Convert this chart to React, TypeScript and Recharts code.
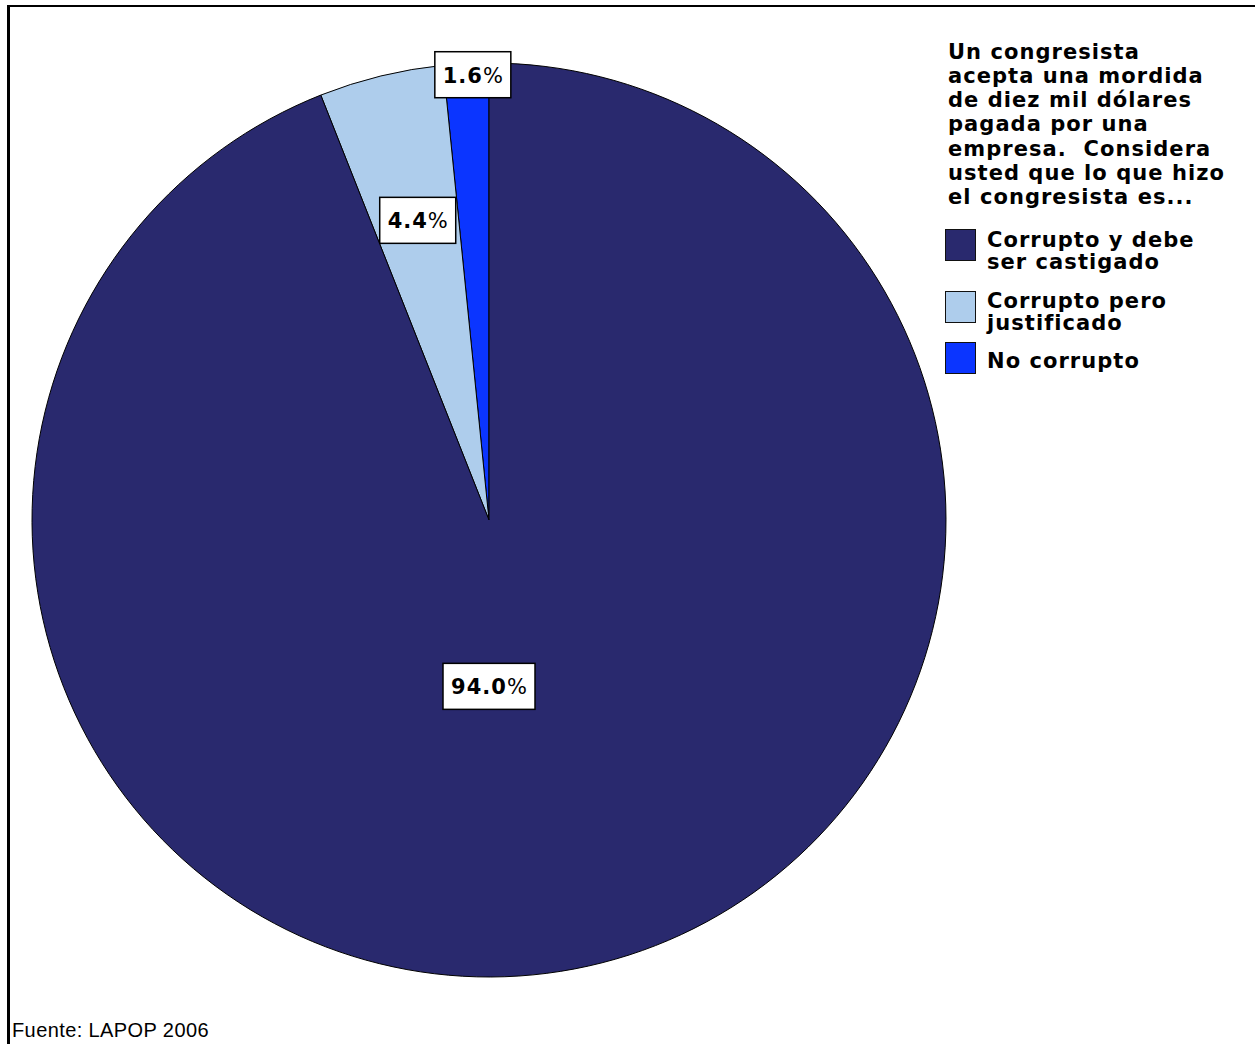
import { PieChart, Pie, Cell, Legend } from 'recharts';

// Data (order as drawn, counter-clockwise from 12 o'clock)
const categories = ['No corrupto', 'Corrupto pero justificado', 'Corrupto y debe ser castigado'];
const values = [1.6, 4.4, 94.0];
const sliceColors = ['#0B35FF', '#AECDEC', '#29296E'];

// Legend text (legend runs in the reverse order of the slices)
const legendTitle = [
    'Un congresista',
    'acepta una mordida',
    'de diez mil dólares',
    'pagada por una',
    'empresa.  Considera',
    'usted que lo que hizo',
    'el congresista es...',
];
const legendLines = [
    ['No corrupto'],
    ['Corrupto pero', 'justificado'],
    ['Corrupto y debe', 'ser castigado'],
];
const sourceNote = 'Fuente: LAPOP 2006';

// where each value box sits: share of the radius, and a nudge off the mid angle
const labelRadius = [0.975, 0.674, 0.364];
const labelAngleShift = [-0.8, -0.3, -10.8];

const data = categories.map((name, i) => ({ name, value: values[i] }));

const RAD = Math.PI / 180;
const boldFont = "'DejaVu Sans', Verdana, sans-serif";

const renderLabel = (props: any) => {
    const { cx, cy, midAngle, outerRadius, index, value } = props;
    const r = outerRadius * labelRadius[index];
    const a = midAngle + labelAngleShift[index];
    const x = cx + r * Math.cos(-a * RAD);
    const y = cy + r * Math.sin(-a * RAD);
    const txt = Number(value).toFixed(1);
    const w = 28 + txt.length * 16;
    const h = 46;
    return (
        <g key={`lbl-${index}`}>
            <rect x={x - w / 2} y={y - h / 2} width={w} height={h} fill="#fff" stroke="#000" strokeWidth={1.5} />
            <text
                x={x}
                y={y + 1}
                textAnchor="middle"
                dominantBaseline="central"
                fontFamily={boldFont}
                fontSize={21}
                fill="#000"
            >
                <tspan fontWeight="bold" letterSpacing={1}>{txt}</tspan>
                <tspan fontWeight="normal">%</tspan>
            </text>
        </g>
    );
};

// legend entries top to bottom: castigado, justificado, no corrupto
const legendOrder = [2, 1, 0];
const itemTops = [229, 291, 342];
const itemTextTops = [228.7, 289.7, 349.7];

const LegendContent = () => (
    <div style={{ position: 'relative', fontFamily: boldFont, fontWeight: 'bold', fontSize: 21, letterSpacing: 1.05, color: '#000' }}>
        <div style={{ position: 'absolute', left: 948, top: 39.5, lineHeight: '24.3px', whiteSpace: 'pre' }}>
            {legendTitle.map((l, i) => <div key={i}>{l}</div>)}
        </div>
        {legendOrder.map((idx, k) => (
            <div key={idx}>
                <div style={{ position: 'absolute', left: 945, top: itemTops[k], width: 29, height: 30, background: sliceColors[idx], border: '1.5px solid #111' }} />
                <div style={{ position: 'absolute', left: 987, top: itemTextTops[k], lineHeight: '22px', whiteSpace: 'pre' }}>
                    {legendLines[idx].map((l, i) => <div key={i}>{l}</div>)}
                </div>
            </div>
        ))}
    </div>
);

export default function App() {
    return (
        <div style={{ position: 'fixed', left: 0, top: 0, width: 1255, height: 1044, overflow: 'hidden', background: '#fff' }}>
            <div style={{ position: 'absolute', left: 7, top: 5, width: 1400, height: 1200, borderLeft: '3px solid #000', borderTop: '2px solid #000' }} />
            <div style={{ position: 'absolute', left: 0, top: 0 }}>
                <PieChart width={1255} height={1044} margin={{ top: 0, right: 0, bottom: 0, left: 0 }}>
                    <Pie
                        data={data}
                        dataKey="value"
                        nameKey="name"
                        cx={489}
                        cy={520}
                        outerRadius={457}
                        startAngle={90}
                        endAngle={450}
                        stroke="#000"
                        strokeWidth={1}
                        label={renderLabel}
                        labelLine={false}
                        isAnimationActive={false}
                    >
                        {data.map((entry, i) => (
                            <Cell key={`cell-${i}`} fill={sliceColors[i]} />
                        ))}
                    </Pie>
                    <Legend
                        content={<LegendContent />}
                        wrapperStyle={{ position: 'absolute', left: 0, top: 0, width: 1255, height: 0 }}
                    />
                </PieChart>
            </div>
            <div style={{ position: 'absolute', left: 12, top: 1019, fontFamily: "'Liberation Sans', Arial, sans-serif", fontSize: 20, letterSpacing: 0.4, color: '#000' }}>
                {sourceNote}
            </div>
        </div>
    );
}
